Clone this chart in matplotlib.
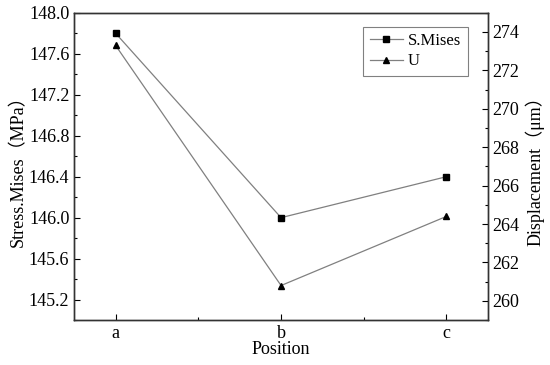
import matplotlib.pyplot as plt
from matplotlib.ticker import MultipleLocator

positions = ['a', 'b', 'c']
mises = [147.8, 146.0, 146.4]
disp = [273.3, 260.8, 264.4]

plt.rcParams['font.family'] = ['Liberation Serif', 'Noto Sans CJK SC']
plt.rcParams['font.size'] = 13

x = range(len(positions))
fig, ax = plt.subplots(figsize=(5.5, 3.65), dpi=100)
fig.subplots_adjust(left=0.135, right=0.887, top=0.965, bottom=0.123)

l1, = ax.plot(x, mises, color='gray', lw=0.9, marker='s', ms=5,
              mfc='black', mec='black', label='S.Mises')
ax.set_xlim(-0.25, 2.25)
ax.set_ylim(145.0, 148.0)
ax.set_xticks(list(x))
ax.set_xticklabels(positions)
ax.xaxis.set_minor_locator(MultipleLocator(0.5))
ax.yaxis.set_major_locator(MultipleLocator(0.4))
ax.yaxis.set_minor_locator(MultipleLocator(0.2))
ax.yaxis.set_major_formatter(plt.FormatStrFormatter('%.1f'))
ax.set_xlabel('Position', labelpad=-1)
ax.set_ylabel('Stress.Mises（MPa）', labelpad=1)

ax2 = ax.twinx()
l2, = ax2.plot(x, disp, color='gray', lw=0.9, marker='^', ms=5,
               mfc='black', mec='black', label='U')
ax2.set_ylim(259, 275)
ax2.yaxis.set_major_locator(MultipleLocator(2))
ax2.yaxis.set_minor_locator(MultipleLocator(1))
ax2.set_ylabel('Displacement（μm）', labelpad=4)

for a in (ax, ax2):
    a.tick_params(which='both', direction='in', width=0.8)
    a.tick_params(which='major', length=4)
    a.tick_params(which='minor', length=2)
    for s in a.spines.values():
        s.set_linewidth(1.0)
        s.set_color('#333333')
ax.tick_params(axis='y', right=False)

leg = ax.legend(handles=[l1, l2], loc='upper right', fontsize=12,
                fancybox=False, framealpha=1, edgecolor='gray',
                handlelength=2.0, handletextpad=0.3, borderpad=0.4,
                labelspacing=0.25, borderaxespad=0,
                bbox_to_anchor=(0.952, 0.955))
leg.get_frame().set_linewidth(0.8)

plt.savefig('out.png', dpi=100)
